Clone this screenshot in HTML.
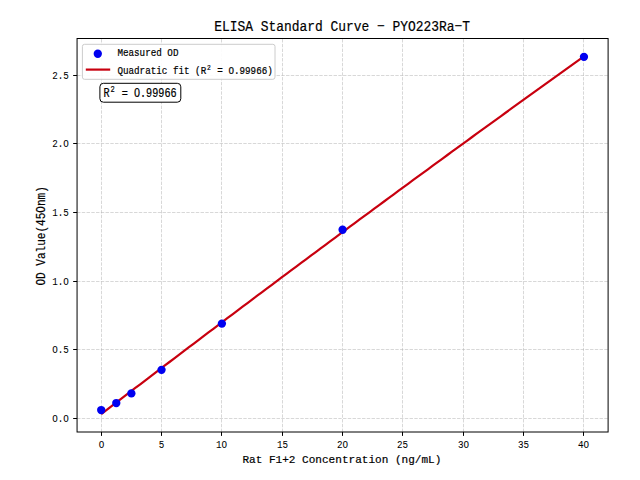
<!DOCTYPE html><html><head><meta charset="utf-8"><style>html,body{margin:0;padding:0;background:#fff;width:640px;height:480px;overflow:hidden}svg{display:block;font-family:"Liberation Mono",monospace} text{fill:#000;stroke:#000;stroke-width:0.2px}</style></head><body>
<svg width="640" height="480" viewBox="0 0 640 480">
<rect width="640" height="480" fill="#fff"/>
<g stroke="#b0b0b0" stroke-opacity="0.55" stroke-width="0.9" stroke-dasharray="3.4 1.35"><line x1="101.5" y1="432.0" x2="101.5" y2="38.5"/><line x1="161.5" y1="432.0" x2="161.5" y2="38.5"/><line x1="221.5" y1="432.0" x2="221.5" y2="38.5"/><line x1="282.5" y1="432.0" x2="282.5" y2="38.5"/><line x1="342.5" y1="432.0" x2="342.5" y2="38.5"/><line x1="402.5" y1="432.0" x2="402.5" y2="38.5"/><line x1="463.5" y1="432.0" x2="463.5" y2="38.5"/><line x1="523.5" y1="432.0" x2="523.5" y2="38.5"/><line x1="583.5" y1="432.0" x2="583.5" y2="38.5"/><line x1="77.06" y1="418.5" x2="608.1" y2="418.5"/><line x1="77.06" y1="349.5" x2="608.1" y2="349.5"/><line x1="77.06" y1="281.5" x2="608.1" y2="281.5"/><line x1="77.06" y1="212.5" x2="608.1" y2="212.5"/><line x1="77.06" y1="143.5" x2="608.1" y2="143.5"/><line x1="77.06" y1="75.5" x2="608.1" y2="75.5"/></g>
<polyline points="101.20,414.11 106.07,410.37 110.95,406.64 115.83,402.90 120.70,399.17 125.58,395.44 130.46,391.72 135.33,387.99 140.21,384.27 145.09,380.55 149.96,376.84 154.84,373.12 159.71,369.41 164.59,365.71 169.47,362.00 174.34,358.30 179.22,354.60 184.10,350.90 188.97,347.20 193.85,343.51 198.73,339.82 203.60,336.13 208.48,332.45 213.36,328.76 218.23,325.08 223.11,321.41 227.98,317.73 232.86,314.06 237.74,310.39 242.61,306.72 247.49,303.06 252.37,299.40 257.24,295.74 262.12,292.08 267.00,288.42 271.87,284.77 276.75,281.12 281.62,277.48 286.50,273.83 291.38,270.19 296.25,266.55 301.13,262.92 306.01,259.28 310.88,255.65 315.76,252.02 320.64,248.39 325.51,244.77 330.39,241.15 335.27,237.53 340.14,233.92 345.02,230.30 349.89,226.69 354.77,223.08 359.65,219.48 364.52,215.87 369.40,212.27 374.28,208.68 379.15,205.08 384.03,201.49 388.91,197.90 393.78,194.31 398.66,190.72 403.54,187.14 408.41,183.56 413.29,179.98 418.16,176.41 423.04,172.84 427.92,169.27 432.79,165.70 437.67,162.13 442.55,158.57 447.42,155.01 452.30,151.46 457.18,147.90 462.05,144.35 466.93,140.80 471.80,137.25 476.68,133.71 481.56,130.17 486.43,126.63 491.31,123.09 496.19,119.56 501.06,116.03 505.94,112.50 510.82,108.97 515.69,105.45 520.57,101.93 525.45,98.41 530.32,94.89 535.20,91.38 540.07,87.87 544.95,84.36 549.83,80.85 554.70,77.35 559.58,73.85 564.46,70.35 569.33,66.86 574.21,63.36 579.09,59.87 583.96,56.39" fill="none" stroke="#c8000f" stroke-width="2.2" stroke-linejoin="round" stroke-linecap="butt"/>
<circle cx="101.20" cy="410.03" r="4.15" fill="#0000f0"/>
<circle cx="116.28" cy="403.04" r="4.15" fill="#0000f0"/>
<circle cx="131.37" cy="393.43" r="4.15" fill="#0000f0"/>
<circle cx="161.54" cy="369.83" r="4.15" fill="#0000f0"/>
<circle cx="221.89" cy="323.59" r="4.15" fill="#0000f0"/>
<circle cx="342.58" cy="229.74" r="4.15" fill="#0000f0"/>
<circle cx="583.96" cy="56.86" r="4.15" fill="#0000f0"/>
<rect x="77.06" y="38.5" width="531.04" height="393.50" fill="none" stroke="#000" stroke-width="1"/>
<g stroke="#000" stroke-width="1"><line x1="101.5" y1="432.0" x2="101.5" y2="435.9"/><line x1="161.5" y1="432.0" x2="161.5" y2="435.9"/><line x1="221.5" y1="432.0" x2="221.5" y2="435.9"/><line x1="282.5" y1="432.0" x2="282.5" y2="435.9"/><line x1="342.5" y1="432.0" x2="342.5" y2="435.9"/><line x1="402.5" y1="432.0" x2="402.5" y2="435.9"/><line x1="463.5" y1="432.0" x2="463.5" y2="435.9"/><line x1="523.5" y1="432.0" x2="523.5" y2="435.9"/><line x1="583.5" y1="432.0" x2="583.5" y2="435.9"/><line x1="73.16" y1="418.5" x2="77.06" y2="418.5"/><line x1="73.16" y1="349.5" x2="77.06" y2="349.5"/><line x1="73.16" y1="281.5" x2="77.06" y2="281.5"/><line x1="73.16" y1="212.5" x2="77.06" y2="212.5"/><line x1="73.16" y1="143.5" x2="77.06" y2="143.5"/><line x1="73.16" y1="75.5" x2="77.06" y2="75.5"/></g>
<text x="101.50" y="447.50" font-size="11.3" text-anchor="middle" textLength="5.55" lengthAdjust="spacingAndGlyphs" style="stroke-width:0.05px">O</text>
<text x="161.50" y="447.50" font-size="11.3" text-anchor="middle" textLength="5.55" lengthAdjust="spacingAndGlyphs" style="stroke-width:0.05px">5</text>
<text x="221.50" y="447.50" font-size="11.3" text-anchor="middle" textLength="11.10" lengthAdjust="spacingAndGlyphs" style="stroke-width:0.05px">1O</text>
<text x="282.50" y="447.50" font-size="11.3" text-anchor="middle" textLength="11.10" lengthAdjust="spacingAndGlyphs" style="stroke-width:0.05px">15</text>
<text x="342.50" y="447.50" font-size="11.3" text-anchor="middle" textLength="11.10" lengthAdjust="spacingAndGlyphs" style="stroke-width:0.05px">2O</text>
<text x="402.50" y="447.50" font-size="11.3" text-anchor="middle" textLength="11.10" lengthAdjust="spacingAndGlyphs" style="stroke-width:0.05px">25</text>
<text x="463.50" y="447.50" font-size="11.3" text-anchor="middle" textLength="11.10" lengthAdjust="spacingAndGlyphs" style="stroke-width:0.05px">3O</text>
<text x="523.50" y="447.50" font-size="11.3" text-anchor="middle" textLength="11.10" lengthAdjust="spacingAndGlyphs" style="stroke-width:0.05px">35</text>
<text x="583.50" y="447.50" font-size="11.3" text-anchor="middle" textLength="11.10" lengthAdjust="spacingAndGlyphs" style="stroke-width:0.05px">4O</text>
<text x="68.80" y="422.30" font-size="11.3" text-anchor="end" textLength="16.65" lengthAdjust="spacingAndGlyphs" style="stroke-width:0.05px">O.O</text>
<text x="68.80" y="353.30" font-size="11.3" text-anchor="end" textLength="16.65" lengthAdjust="spacingAndGlyphs" style="stroke-width:0.05px">O.5</text>
<text x="68.80" y="285.30" font-size="11.3" text-anchor="end" textLength="16.65" lengthAdjust="spacingAndGlyphs" style="stroke-width:0.05px">1.O</text>
<text x="68.80" y="216.30" font-size="11.3" text-anchor="end" textLength="16.65" lengthAdjust="spacingAndGlyphs" style="stroke-width:0.05px">1.5</text>
<text x="68.80" y="147.30" font-size="11.3" text-anchor="end" textLength="16.65" lengthAdjust="spacingAndGlyphs" style="stroke-width:0.05px">2.O</text>
<text x="68.80" y="79.30" font-size="11.3" text-anchor="end" textLength="16.65" lengthAdjust="spacingAndGlyphs" style="stroke-width:0.05px">2.5</text>
<text x="342.20" y="31.00" font-size="15.2" text-anchor="middle" textLength="255.75" lengthAdjust="spacingAndGlyphs" >ELISA Standard Curve − PYO223Ra−T</text>
<text x="341.90" y="463.30" font-size="11.8" text-anchor="middle" textLength="198.90" lengthAdjust="spacingAndGlyphs" >Rat F1+2 Concentration (ng/mL)</text>
<g transform="translate(44.8,235.9) rotate(-90)"><text x="0.00" y="0.00" font-size="12.6" text-anchor="middle" textLength="99.45" lengthAdjust="spacingAndGlyphs" >OD Value(45Onm)</text></g>
<rect x="82.4" y="44.3" width="192.6" height="35.0" rx="2.2" fill="#fff" fill-opacity="0.92" stroke="#cccccc" stroke-width="1"/>
<circle cx="97.8" cy="53.75" r="4.15" fill="#0000f0"/>
<line x1="85.8" y1="69.6" x2="110.2" y2="69.6" stroke="#c8000f" stroke-width="2.2"/>
<text x="117.40" y="56.00" font-size="10.6" text-anchor="start" textLength="61.05" lengthAdjust="spacingAndGlyphs" >Measured OD</text>
<text x="117.40" y="73.60" font-size="10.6" text-anchor="start" textLength="88.80" lengthAdjust="spacingAndGlyphs" >Quadratic fit (R</text>
<text x="208.97" y="70.00" font-size="7.8" text-anchor="middle" textLength="3.74" lengthAdjust="spacingAndGlyphs">2</text>
<text x="217.30" y="73.60" font-size="10.6" text-anchor="start" textLength="55.50" lengthAdjust="spacingAndGlyphs" >= O.99966)</text>
<rect x="99.9" y="83.3" width="80.9" height="18.9" rx="3.5" fill="#fff" stroke="#000" stroke-width="1"/>
<text x="103.40" y="97.00" font-size="11.9" text-anchor="start" textLength="6.10" lengthAdjust="spacingAndGlyphs" >R</text>
<text x="112.55" y="92.40" font-size="8.8" text-anchor="middle" textLength="4.22" lengthAdjust="spacingAndGlyphs">2</text>
<text x="121.70" y="97.00" font-size="11.9" text-anchor="start" textLength="54.90" lengthAdjust="spacingAndGlyphs" >= O.99966</text>
</svg></body></html>
